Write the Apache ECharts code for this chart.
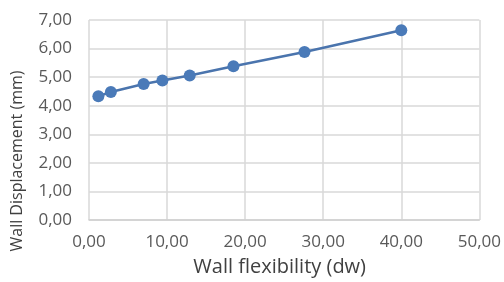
<!DOCTYPE html>
<html>
<head>
<meta charset="utf-8">
<script src="https://cdn.jsdelivr.net/npm/echarts@6/dist/echarts.min.js"></script>
<style>html,body{margin:0;padding:0;background:#fff}#c{width:504px;height:282px}</style>
</head>
<body>
<div id="c"></div>
<script>
var flexibility = [1.2, 2.8, 7.0, 9.4, 12.9, 18.5, 27.6, 40.0];
var displacement = [4.33, 4.48, 4.76, 4.88, 5.06, 5.38, 5.88, 6.64];
var xTitle = 'Wall flexibility (dw)';
var yTitle = 'Wall Displacement (mm)';

var fmt = function (v) { return v.toFixed(2).replace('.', ','); };
var chart = echarts.init(document.getElementById('c'), null, {renderer: 'canvas'});
chart.setOption({
  animation: false,
  textStyle: {fontFamily: 'Open Sans'},
  grid: {left: 89, right: 24, top: 20, bottom: 62},
  xAxis: {
    type: 'value', min: 0, max: 50, interval: 10,
    name: xTitle, nameLocation: 'middle', nameGap: 37,
    nameTextStyle: {color: '#404040', fontSize: 20, fontFamily: 'Open Sans', padding: [0, 9, 0, 0]},
    axisLine: {show: true, lineStyle: {color: '#d0d0d0', width: 1.5}},
    axisTick: {show: false},
    axisLabel: {formatter: fmt, color: '#595959', fontSize: 17, margin: 14},
    splitLine: {show: true, lineStyle: {color: '#d9d9d9', width: 1.5}}
  },
  yAxis: {
    type: 'value', min: 0, max: 7, interval: 1,
    axisLine: {show: false},
    axisTick: {show: false},
    axisLabel: {formatter: fmt, color: '#595959', fontSize: 17, margin: 17},
    splitLine: {show: true, lineStyle: {color: '#d9d9d9', width: 1.5}}
  },
  graphic: [{
    type: 'text', x: 17, y: 161, rotation: Math.PI / 2,
    style: {text: yTitle, fill: '#404040', font: '16px "Open Sans"', textAlign: 'center', textVerticalAlign: 'middle'}
  }],
  series: [{
    type: 'line',
    data: flexibility.map(function (x, i) { return [x, displacement[i]]; }),
    symbol: 'circle', symbolSize: 12,
    lineStyle: {color: '#4a74ad', width: 2.5},
    itemStyle: {color: '#4a7ab8'}
  }]
});
</script>
</body>
</html>
